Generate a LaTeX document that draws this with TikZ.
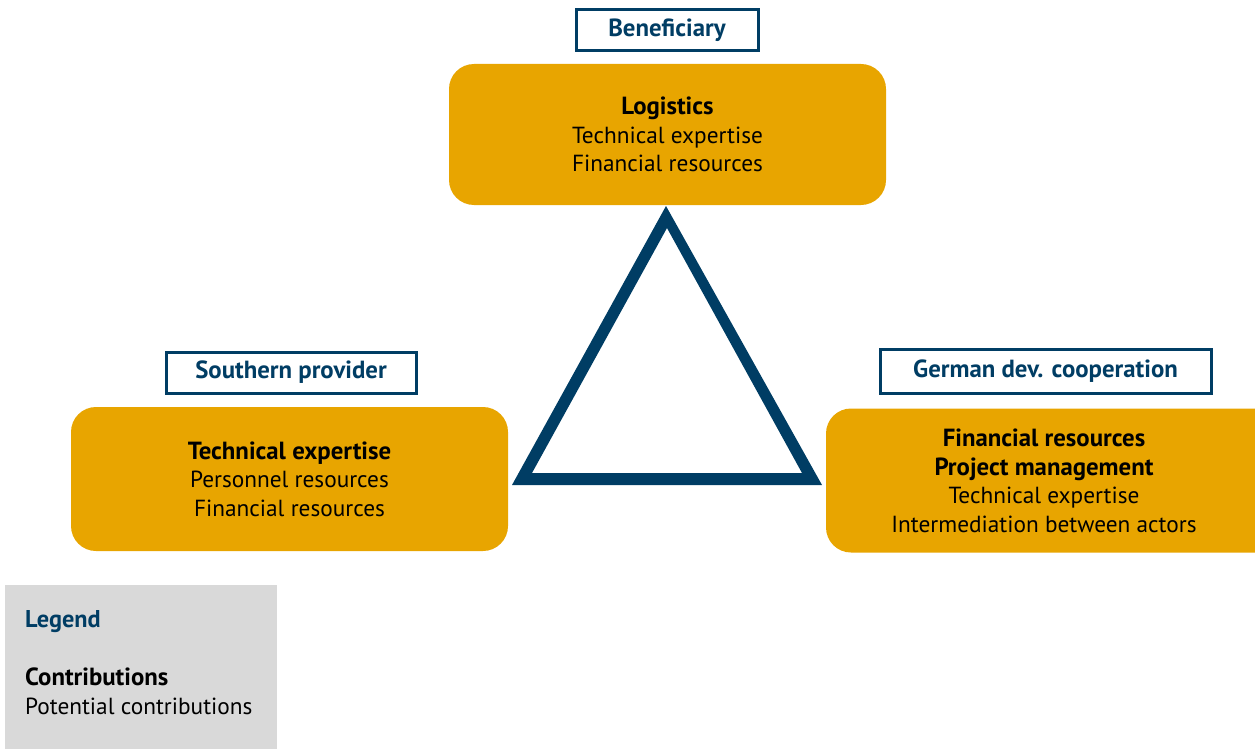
\documentclass[tikz,border=0pt]{standalone}
\usepackage{fontspec}
\setmainfont{PT Sans}
\definecolor{dblue}{RGB}{0,61,100}
\definecolor{gold}{RGB}{232,165,0}
\definecolor{lgray}{RGB}{217,217,217}
\newcommand{\strongline}[1]{{\fontsize{24.8}{28.5}\selectfont\bfseries #1}}
\begin{document}
\begin{tikzpicture}[x=1pt,y=-1pt,
  rolebox/.style={draw=dblue, line width=3pt, fill=white, text=dblue, inner sep=0pt, font=\fontsize{24.8}{25}\selectfont\bfseries},
  contrib/.style={fill=gold, rounded corners=25pt, inner sep=0pt, align=center, font=\fontsize{23.3}{28.5}\selectfont},
]
\path[use as bounding box, clip] (0,0) rectangle (1255,749);
% role labels
\node[rolebox, minimum width=182pt, minimum height=41pt] (benL) at (667,30.5) {Beneficiary};
\node[rolebox, minimum width=250pt, minimum height=41pt] (spL) at (291,372.5) {Southern provider};
\node[rolebox, minimum width=331pt, minimum height=44pt] (gdcL) at (1045.5,371.5) {German dev. cooperation};
% contribution boxes
\node[contrib, minimum width=437pt, minimum height=141pt] (ben) at (667.5,134.5)
  {\strongline{Logistics}\\Technical expertise\\Financial resources};
\node[contrib, minimum width=437pt, minimum height=144pt] (sp) at (289.5,479)
  {\strongline{Technical expertise}\\Personnel resources\\Financial resources};
\node[contrib, minimum width=470pt, minimum height=144pt] (gdc) at (1061,480.5) {};
\node[align=center, inner sep=0pt, font=\fontsize{23.3}{28.5}\selectfont] (gdcT) at (1044,481)
  {\strongline{Financial resources}\\\strongline{Project management}\\Technical expertise\\Intermediation between actors};
% triangle
\fill[dblue, even odd rule] (666,206) -- (822,485) -- (512,485) -- cycle
  (667,228) -- (802,473) -- (532,473) -- cycle;
% legend
\node[fill=lgray, minimum width=272pt, minimum height=166pt, inner sep=0pt] (leg) at (141,668) {};
\node[anchor=west, inner sep=0pt, text=dblue, font=\fontsize{24.3}{25}\selectfont\bfseries] (legT) at (25,622) {Legend};
\node[anchor=north west, inner sep=0pt, align=left, font=\fontsize{23.3}{28.5}\selectfont] (legC) at (25,668)
  {\strongline{Contributions}\\Potential contributions};
\end{tikzpicture}
\end{document}
